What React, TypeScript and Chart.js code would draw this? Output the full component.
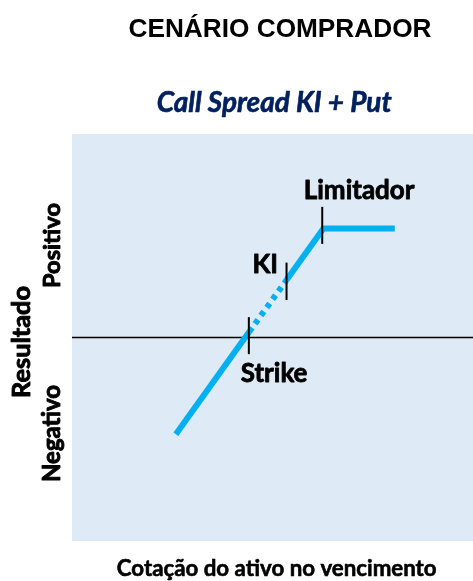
import React, { useEffect, useRef } from "react";
import { Chart, registerables } from "chart.js";

Chart.register(...registerables);

// ---- data (chart units: x 0..100 across the plot, y -50..50) ----
const payoffX = [25.9, 44.2, 53.5, 62.7, 80.5];
const payoffY = [-23.8, 1.4, 14.1, 26.8, 26.8];
const markerNames = ["Strike", "KI", "Limitador"];
const markerX = [44.1, 53.5, 62.4];
const markerYLow = [-4.1, 9.2, 23.0];
const markerYHigh = [5.0, 18.4, 32.1];
const zeroLineX = [0, 100];
const zeroLineY = [0, 0];

const titleText = "CENÁRIO COMPRADOR";
const subtitleText = "Call Spread KI + Put";
const xAxisTitle = "Cotação do ativo no vencimento";
const yAxisTitle = "Resultado";
const yPositive = "Positivo";
const yNegative = "Negativo";

// label placement (data coords: centre x, baseline y)
const markerLabelX = [50.4, 48.2, 71.6];
const markerLabelY = [-10.9, 15.8, 34.0];

const W = 473;
const H = 581;
const BODY_FONT = "Lato, 'Noto Sans', sans-serif";
const WEIGHT = "bold";

function pts(xs: number[], ys: number[]) {
  return xs.map((x, i) => ({ x, y: ys[i] }));
}

function fitFont(ctx: CanvasRenderingContext2D, text: string, prefix: string, family: string, target: number) {
  const base = 20;
  ctx.font = `${prefix} ${base}px ${family}`;
  const w = ctx.measureText(text).width;
  const size = (base * target) / w;
  ctx.font = `${prefix} ${size}px ${family}`;
}

function heavyText(ctx: CanvasRenderingContext2D, text: string, x: number, y: number, extra = 0.8) {
  ctx.lineWidth = extra;
  ctx.strokeStyle = ctx.fillStyle as string;
  ctx.lineJoin = "round";
  ctx.fillText(text, x, y);
  ctx.strokeText(text, x, y);
}

const decorPlugin = {
  id: "decor",
  beforeDraw(chart: any) {
    const { ctx, chartArea } = chart;
    ctx.save();
    ctx.fillStyle = "#DEEAF6";
    ctx.fillRect(chartArea.left, chartArea.top, chartArea.right - chartArea.left, chartArea.bottom - chartArea.top);
    ctx.restore();
  },
  afterDraw(chart: any) {
    const { ctx } = chart;
    const xs = chart.scales.x;
    const ys = chart.scales.y;
    ctx.save();
    ctx.textBaseline = "alphabetic";

    // main title
    ctx.fillStyle = "#000000";
    ctx.textAlign = "center";
    fitFont(ctx, titleText, "bold", "'Liberation Sans', Arial, sans-serif", 303);
    ctx.fillText(titleText, 280, 36.7);

    // subtitle
    ctx.fillStyle = "#002060";
    fitFont(ctx, subtitleText, `italic ${WEIGHT}`, BODY_FONT, 235);
    heavyText(ctx, subtitleText, 274.2, 112, 0.6);

    // x axis title
    ctx.fillStyle = "#000000";
    fitFont(ctx, xAxisTitle, WEIGHT, BODY_FONT, 320);
    heavyText(ctx, xAxisTitle, 276.7, 576, 0.6);

    // marker labels
    ctx.font = `${WEIGHT} 26px ${BODY_FONT}`;
    markerNames.forEach((name, i) => {
      heavyText(ctx, name, xs.getPixelForValue(markerLabelX[i]), ys.getPixelForValue(markerLabelY[i]), 0.8);
    });

    // rotated y labels
    const rot = (text: string, bx: number, cy: number, width: number) => {
      ctx.save();
      ctx.translate(bx, cy);
      ctx.rotate(-Math.PI / 2);
      fitFont(ctx, text, WEIGHT, BODY_FONT, width);
      ctx.textAlign = "center";
      heavyText(ctx, text, 0, 0, 0.9);
      ctx.restore();
    };
    rot(yAxisTitle, 30, 342, 112);
    rot(yPositive, 60, 245.5, 85);
    rot(yNegative, 60, 433.5, 97);

    ctx.restore();
  },
};

export default function App() {
  const ref = useRef<HTMLCanvasElement | null>(null);

  useEffect(() => {
    document.body.style.margin = "0";
    document.body.style.overflow = "hidden";
    const canvas = ref.current;
    if (!canvas) return;

    const tickSets = markerNames.map((name, i) => ({
      label: name,
      data: [
        { x: markerX[i], y: markerYLow[i] },
        { x: markerX[i], y: markerYHigh[i] },
      ],
      borderColor: "#000000",
      borderWidth: 2,
      pointRadius: 0,
      borderCapStyle: "butt",
    }));

    const blue = "#00B0F0";
    const chart = new Chart(canvas, {
      type: "line",
      data: {
        datasets: [
          ...tickSets,
          {
            label: "payoff-low",
            data: pts(payoffX.slice(0, 2), payoffY.slice(0, 2)),
            borderColor: blue,
            borderWidth: 6,
            pointRadius: 0,
            borderCapStyle: "butt",
          },
          {
            label: "payoff-dotted",
            data: pts(payoffX.slice(1, 3), payoffY.slice(1, 3)),
            borderColor: blue,
            borderWidth: 6,
            pointRadius: 0,
            borderCapStyle: "butt",
            borderDash: [5, 5],
          },
          {
            label: "payoff-high",
            data: pts(payoffX.slice(2), payoffY.slice(2)),
            borderColor: blue,
            borderWidth: 6,
            pointRadius: 0,
            borderCapStyle: "butt",
            borderJoinStyle: "miter",
          },
          {
            label: "zero",
            data: pts(zeroLineX, zeroLineY),
            borderColor: "#000000",
            borderWidth: 1.5,
            pointRadius: 0,
          },
        ] as any,
      },
      options: {
        animation: false,
        responsive: false,
        devicePixelRatio: 1,
        events: [],
        layout: { padding: { left: 72, right: 0, top: 134, bottom: 40 } },
        scales: {
          x: { type: "linear", min: 0, max: 100, display: false },
          y: { type: "linear", min: -50, max: 50, display: false },
        },
        plugins: {
          legend: { display: false },
          tooltip: { enabled: false },
          title: { display: false },
        },
      },
      plugins: [decorPlugin],
    });

    return () => chart.destroy();
  }, []);

  return (
    <div style={{ position: "absolute", left: 0, top: 0, width: W, height: H, background: "#ffffff" }}>
      <canvas ref={ref} width={W} height={H} style={{ width: W, height: H, display: "block" }} />
    </div>
  );
}
